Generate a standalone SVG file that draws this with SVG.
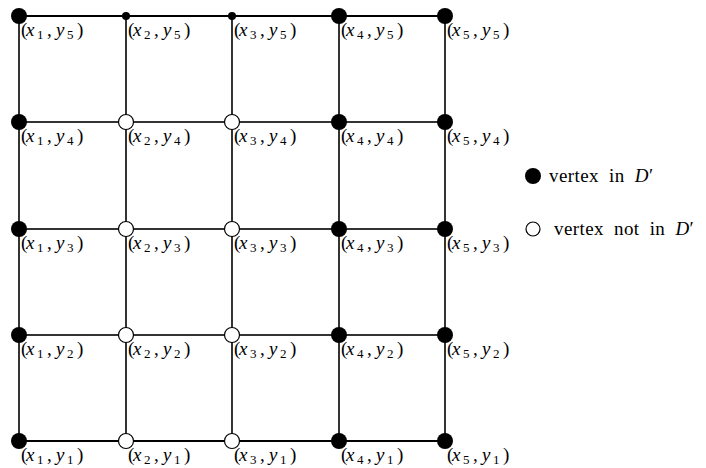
<svg xmlns="http://www.w3.org/2000/svg" width="706" height="468" viewBox="0 0 706 468">
<style>
.v{stroke:#000;stroke-width:1.6;fill:none}
.h{stroke:#333;stroke-width:2.2;fill:none}
.hb{stroke:#000;stroke-width:2;fill:none}
.f{fill:#000}
.o{fill:#fff;stroke:#000;stroke-width:1.2}
text{font-family:"Liberation Serif","DejaVu Serif",serif;font-size:19px;fill:#000}
.lg{word-spacing:5px;letter-spacing:0.4px}
.i{font-style:italic}
.s{font-size:13px}
</style>
<rect width="706" height="468" fill="#fff"/>
<g id="connectors">
<line class="v" x1="19" y1="16" x2="19" y2="441"/>
<line class="v" x1="126" y1="16" x2="126" y2="441"/>
<line class="v" x1="232" y1="16" x2="232" y2="441"/>
<line class="v" x1="339" y1="16" x2="339" y2="441"/>
<line class="v" x1="445" y1="16" x2="445" y2="441"/>
<line class="hb" x1="19" y1="16" x2="445" y2="16"/>
<line class="h" x1="19" y1="122" x2="445" y2="122"/>
<line class="h" x1="19" y1="229" x2="445" y2="229"/>
<line class="h" x1="19" y1="335" x2="445" y2="335"/>
<line class="hb" x1="19" y1="441" x2="445" y2="441"/>
</g>
<g id="nodes">
<g id="n15"><circle class="f" cx="19" cy="16" r="8"/><text y="36"><tspan x="21">(</tspan><tspan class="i" x="26">x</tspan><tspan class="s" x="37" dy="3">1</tspan><tspan x="47" dy="-3">,</tspan><tspan class="i" x="56">y</tspan><tspan class="s" x="67" dy="3">5</tspan><tspan x="77" dy="-3">)</tspan></text></g>
<g id="n25"><circle class="f" cx="126" cy="16" r="4"/><text y="36"><tspan x="128">(</tspan><tspan class="i" x="133">x</tspan><tspan class="s" x="144" dy="3">2</tspan><tspan x="154" dy="-3">,</tspan><tspan class="i" x="163">y</tspan><tspan class="s" x="174" dy="3">5</tspan><tspan x="184" dy="-3">)</tspan></text></g>
<g id="n35"><circle class="f" cx="232" cy="16" r="4"/><text y="36"><tspan x="234">(</tspan><tspan class="i" x="239">x</tspan><tspan class="s" x="250" dy="3">3</tspan><tspan x="260" dy="-3">,</tspan><tspan class="i" x="269">y</tspan><tspan class="s" x="280" dy="3">5</tspan><tspan x="290" dy="-3">)</tspan></text></g>
<g id="n45"><circle class="f" cx="339" cy="16" r="8"/><text y="36"><tspan x="341">(</tspan><tspan class="i" x="346">x</tspan><tspan class="s" x="357" dy="3">4</tspan><tspan x="367" dy="-3">,</tspan><tspan class="i" x="376">y</tspan><tspan class="s" x="387" dy="3">5</tspan><tspan x="397" dy="-3">)</tspan></text></g>
<g id="n55"><circle class="f" cx="445" cy="16" r="8"/><text y="36"><tspan x="447">(</tspan><tspan class="i" x="452">x</tspan><tspan class="s" x="463" dy="3">5</tspan><tspan x="473" dy="-3">,</tspan><tspan class="i" x="482">y</tspan><tspan class="s" x="493" dy="3">5</tspan><tspan x="503" dy="-3">)</tspan></text></g>

<g id="n14"><circle class="f" cx="19" cy="122" r="8"/><text y="142"><tspan x="21">(</tspan><tspan class="i" x="26">x</tspan><tspan class="s" x="37" dy="3">1</tspan><tspan x="47" dy="-3">,</tspan><tspan class="i" x="56">y</tspan><tspan class="s" x="67" dy="3">4</tspan><tspan x="77" dy="-3">)</tspan></text></g>
<g id="n24"><circle class="o" cx="126" cy="122" r="7.5"/><text y="142"><tspan x="128">(</tspan><tspan class="i" x="133">x</tspan><tspan class="s" x="144" dy="3">2</tspan><tspan x="154" dy="-3">,</tspan><tspan class="i" x="163">y</tspan><tspan class="s" x="174" dy="3">4</tspan><tspan x="184" dy="-3">)</tspan></text></g>
<g id="n34"><circle class="o" cx="232" cy="122" r="7.5"/><text y="142"><tspan x="234">(</tspan><tspan class="i" x="239">x</tspan><tspan class="s" x="250" dy="3">3</tspan><tspan x="260" dy="-3">,</tspan><tspan class="i" x="269">y</tspan><tspan class="s" x="280" dy="3">4</tspan><tspan x="290" dy="-3">)</tspan></text></g>
<g id="n44"><circle class="f" cx="339" cy="122" r="8"/><text y="142"><tspan x="341">(</tspan><tspan class="i" x="346">x</tspan><tspan class="s" x="357" dy="3">4</tspan><tspan x="367" dy="-3">,</tspan><tspan class="i" x="376">y</tspan><tspan class="s" x="387" dy="3">4</tspan><tspan x="397" dy="-3">)</tspan></text></g>
<g id="n54"><circle class="f" cx="445" cy="122" r="8"/><text y="142"><tspan x="447">(</tspan><tspan class="i" x="452">x</tspan><tspan class="s" x="463" dy="3">5</tspan><tspan x="473" dy="-3">,</tspan><tspan class="i" x="482">y</tspan><tspan class="s" x="493" dy="3">4</tspan><tspan x="503" dy="-3">)</tspan></text></g>

<g id="n13"><circle class="f" cx="19" cy="229" r="8"/><text y="249"><tspan x="21">(</tspan><tspan class="i" x="26">x</tspan><tspan class="s" x="37" dy="3">1</tspan><tspan x="47" dy="-3">,</tspan><tspan class="i" x="56">y</tspan><tspan class="s" x="67" dy="3">3</tspan><tspan x="77" dy="-3">)</tspan></text></g>
<g id="n23"><circle class="o" cx="126" cy="229" r="7.5"/><text y="249"><tspan x="128">(</tspan><tspan class="i" x="133">x</tspan><tspan class="s" x="144" dy="3">2</tspan><tspan x="154" dy="-3">,</tspan><tspan class="i" x="163">y</tspan><tspan class="s" x="174" dy="3">3</tspan><tspan x="184" dy="-3">)</tspan></text></g>
<g id="n33"><circle class="o" cx="232" cy="229" r="7.5"/><text y="249"><tspan x="234">(</tspan><tspan class="i" x="239">x</tspan><tspan class="s" x="250" dy="3">3</tspan><tspan x="260" dy="-3">,</tspan><tspan class="i" x="269">y</tspan><tspan class="s" x="280" dy="3">3</tspan><tspan x="290" dy="-3">)</tspan></text></g>
<g id="n43"><circle class="f" cx="339" cy="229" r="8"/><text y="249"><tspan x="341">(</tspan><tspan class="i" x="346">x</tspan><tspan class="s" x="357" dy="3">4</tspan><tspan x="367" dy="-3">,</tspan><tspan class="i" x="376">y</tspan><tspan class="s" x="387" dy="3">3</tspan><tspan x="397" dy="-3">)</tspan></text></g>
<g id="n53"><circle class="f" cx="445" cy="229" r="8"/><text y="249"><tspan x="447">(</tspan><tspan class="i" x="452">x</tspan><tspan class="s" x="463" dy="3">5</tspan><tspan x="473" dy="-3">,</tspan><tspan class="i" x="482">y</tspan><tspan class="s" x="493" dy="3">3</tspan><tspan x="503" dy="-3">)</tspan></text></g>

<g id="n12"><circle class="f" cx="19" cy="335" r="8"/><text y="355"><tspan x="21">(</tspan><tspan class="i" x="26">x</tspan><tspan class="s" x="37" dy="3">1</tspan><tspan x="47" dy="-3">,</tspan><tspan class="i" x="56">y</tspan><tspan class="s" x="67" dy="3">2</tspan><tspan x="77" dy="-3">)</tspan></text></g>
<g id="n22"><circle class="o" cx="126" cy="335" r="7.5"/><text y="355"><tspan x="128">(</tspan><tspan class="i" x="133">x</tspan><tspan class="s" x="144" dy="3">2</tspan><tspan x="154" dy="-3">,</tspan><tspan class="i" x="163">y</tspan><tspan class="s" x="174" dy="3">2</tspan><tspan x="184" dy="-3">)</tspan></text></g>
<g id="n32"><circle class="o" cx="232" cy="335" r="7.5"/><text y="355"><tspan x="234">(</tspan><tspan class="i" x="239">x</tspan><tspan class="s" x="250" dy="3">3</tspan><tspan x="260" dy="-3">,</tspan><tspan class="i" x="269">y</tspan><tspan class="s" x="280" dy="3">2</tspan><tspan x="290" dy="-3">)</tspan></text></g>
<g id="n42"><circle class="f" cx="339" cy="335" r="8"/><text y="355"><tspan x="341">(</tspan><tspan class="i" x="346">x</tspan><tspan class="s" x="357" dy="3">4</tspan><tspan x="367" dy="-3">,</tspan><tspan class="i" x="376">y</tspan><tspan class="s" x="387" dy="3">2</tspan><tspan x="397" dy="-3">)</tspan></text></g>
<g id="n52"><circle class="f" cx="445" cy="335" r="8"/><text y="355"><tspan x="447">(</tspan><tspan class="i" x="452">x</tspan><tspan class="s" x="463" dy="3">5</tspan><tspan x="473" dy="-3">,</tspan><tspan class="i" x="482">y</tspan><tspan class="s" x="493" dy="3">2</tspan><tspan x="503" dy="-3">)</tspan></text></g>

<g id="n11"><circle class="f" cx="19" cy="441" r="8"/><text y="461"><tspan x="21">(</tspan><tspan class="i" x="26">x</tspan><tspan class="s" x="37" dy="3">1</tspan><tspan x="47" dy="-3">,</tspan><tspan class="i" x="56">y</tspan><tspan class="s" x="67" dy="3">1</tspan><tspan x="77" dy="-3">)</tspan></text></g>
<g id="n21"><circle class="o" cx="126" cy="441" r="7.5"/><text y="461"><tspan x="128">(</tspan><tspan class="i" x="133">x</tspan><tspan class="s" x="144" dy="3">2</tspan><tspan x="154" dy="-3">,</tspan><tspan class="i" x="163">y</tspan><tspan class="s" x="174" dy="3">1</tspan><tspan x="184" dy="-3">)</tspan></text></g>
<g id="n31"><circle class="o" cx="232" cy="441" r="7.5"/><text y="461"><tspan x="234">(</tspan><tspan class="i" x="239">x</tspan><tspan class="s" x="250" dy="3">3</tspan><tspan x="260" dy="-3">,</tspan><tspan class="i" x="269">y</tspan><tspan class="s" x="280" dy="3">1</tspan><tspan x="290" dy="-3">)</tspan></text></g>
<g id="n41"><circle class="f" cx="339" cy="441" r="8"/><text y="461"><tspan x="341">(</tspan><tspan class="i" x="346">x</tspan><tspan class="s" x="357" dy="3">4</tspan><tspan x="367" dy="-3">,</tspan><tspan class="i" x="376">y</tspan><tspan class="s" x="387" dy="3">1</tspan><tspan x="397" dy="-3">)</tspan></text></g>
<g id="n51"><circle class="f" cx="445" cy="441" r="8"/><text y="461"><tspan x="447">(</tspan><tspan class="i" x="452">x</tspan><tspan class="s" x="463" dy="3">5</tspan><tspan x="473" dy="-3">,</tspan><tspan class="i" x="482">y</tspan><tspan class="s" x="493" dy="3">1</tspan><tspan x="503" dy="-3">)</tspan></text></g>
</g>
<g id="legend">
<circle class="f" cx="533" cy="176" r="8"/>
<text class="lg" x="549" y="182">vertex in <tspan class="i">D</tspan>′</text>
<circle class="o" cx="533" cy="229" r="7"/>
<text class="lg" x="554" y="235">vertex not in <tspan class="i">D</tspan>′</text>
</g>
</svg>
